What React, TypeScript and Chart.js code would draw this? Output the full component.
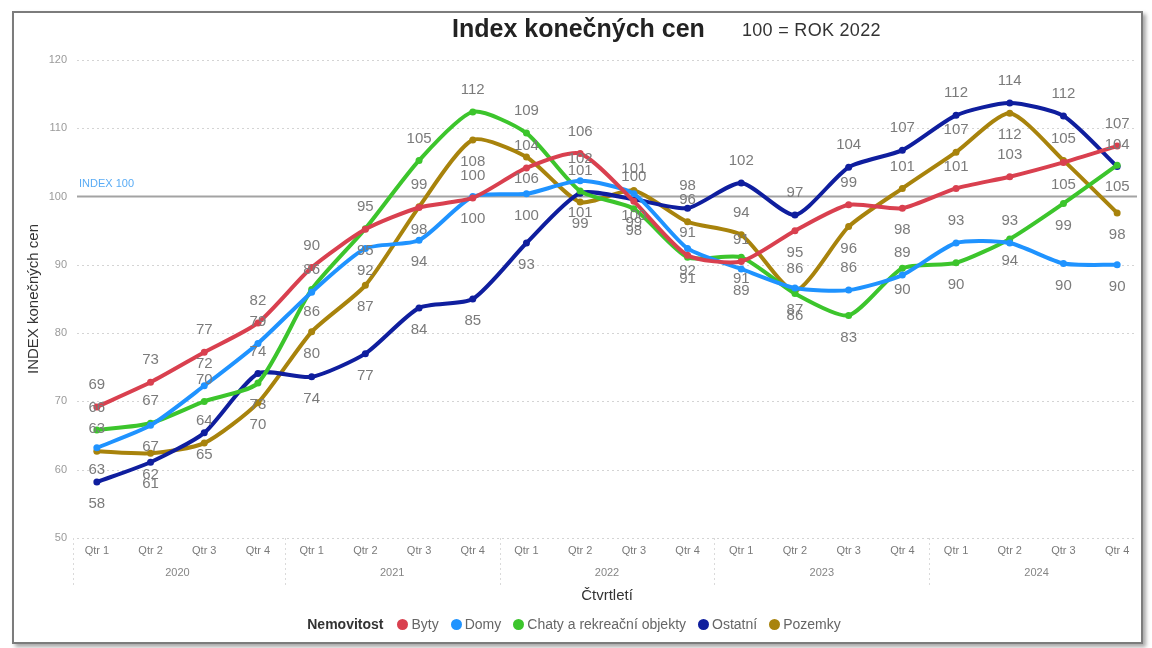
import React, { useEffect, useRef } from "react";
import { Chart, registerables } from "chart.js";

Chart.register(...registerables);

// ---------- data ----------
const years = ["2020", "2021", "2022", "2023", "2024"];
const quarters = ["Qtr 1", "Qtr 2", "Qtr 3", "Qtr 4"];
const categories = years.flatMap(() => quarters);

const seriesNames = ["Byty", "Domy", "Chaty a rekreační objekty", "Ostatní", "Pozemky"];
const byty = [69.2, 72.8, 77.2, 81.5, 89.6, 95.2, 98.4, 99.8, 104.2, 106.3, 99.3, 91.4, 90.5, 95.0, 98.8, 98.3, 101.2, 102.9, 105.0, 107.4];
const domy = [63.2, 66.5, 72.3, 78.5, 86.0, 92.4, 93.6, 100.0, 100.4, 102.3, 100.4, 92.4, 89.4, 86.6, 86.3, 88.5, 93.2, 93.2, 90.2, 90.0];
const chaty = [65.8, 66.8, 70.0, 72.7, 86.4, 95.3, 105.3, 112.4, 109.3, 100.8, 98.2, 91.1, 91.1, 85.8, 82.6, 89.5, 90.3, 93.8, 99.0, 104.6];
const ostatni = [58.2, 61.1, 65.4, 74.1, 73.6, 77.0, 83.7, 85.0, 93.2, 100.5, 99.6, 98.3, 102.0, 97.3, 104.3, 106.8, 111.9, 113.7, 111.8, 104.4];
const pozemky = [62.7, 62.4, 63.9, 69.8, 80.2, 87.0, 98.5, 108.3, 105.8, 99.2, 100.9, 96.3, 94.4, 86.2, 95.6, 101.2, 106.5, 112.2, 105.3, 97.6];
const seriesValues = [byty, domy, chaty, ostatni, pozemky];
const seriesColors = ["#D9404F", "#1F93FF", "#3CC52C", "#0F1E9E", "#A8830C"];

const yTicks = [50, 60, 70, 80, 90, 100, 110, 120];
const indexLine = 100;
const indexLabel = "INDEX 100";
const titleText = "Index konečných cen";
const subtitleText = "100 = ROK 2022";
const yTitle = "INDEX konečných cen";
const xTitle = "Čtvrtletí";
const legendTitle = "Nemovitost";

const FONT = '"Liberation Sans", Arial, sans-serif';

const extrasPlugin = {
  id: "extras",
  beforeDatasetsDraw(chart: any) {
    const { ctx, chartArea, scales } = chart;
    const y = scales.y;
    const x0 = chartArea.left + 7;
    const x1 = chartArea.right - 7;
    ctx.save();
    ctx.strokeStyle = "#d4d4d4";
    ctx.lineWidth = 1;
    ctx.setLineDash([2, 3]);
    for (const t of yTicks) {
      if (t === indexLine) continue;
      const py = Math.round(y.getPixelForValue(t)) + 0.5;
      ctx.beginPath();
      ctx.moveTo(x0, py);
      ctx.lineTo(x1, py);
      ctx.stroke();
    }
    ctx.setLineDash([]);
    const p = y.getPixelForValue(indexLine);
    ctx.strokeStyle = "#a3a3a3";
    ctx.lineWidth = 2;
    ctx.beginPath();
    ctx.moveTo(x0, p);
    ctx.lineTo(x1, p);
    ctx.stroke();
    ctx.fillStyle = "#5aacf5";
    ctx.font = "11px " + FONT;
    ctx.textBaseline = "middle";
    ctx.textAlign = "left";
    ctx.fillText(indexLabel, chartArea.left + 9, p - 13);
    ctx.restore();
  },
  afterDatasetsDraw(chart: any) {
    const { ctx } = chart;
    ctx.save();
    ctx.font = "15px " + FONT;
    ctx.fillStyle = "#7b7b7b";
    ctx.textAlign = "center";
    ctx.textBaseline = "middle";
    const placed: { l: number; r: number; t: number; b: number }[] = [];
    const n = categories.length;
    const h = 14;
    const off = 22;
    for (let i = 0; i < n; i++) {
      const items = chart.data.datasets.map((ds: any, d: number) => {
        const el = chart.getDatasetMeta(d).data[i];
        return { d, v: ds.data[i], x: el.x, y: el.y };
      });
      items.sort((a: any, b: any) => a.y - b.y);
      items.forEach((it: any, rank: number) => {
        const text = String(Math.round(it.v));
        const w = ctx.measureText(text).width;
        const preferAbove = rank === 0 ? true : rank === items.length - 1 ? false : rank < items.length / 2;
        const cands = [
          { cy: it.y - off, pref: preferAbove ? 0 : 1 },
          { cy: it.y + off, pref: preferAbove ? 1 : 0 },
        ];
        let best: any = null;
        for (const c of cands) {
          const box = { l: it.x - w / 2, r: it.x + w / 2, t: c.cy - h / 2, b: c.cy + h / 2 };
          let score = c.pref;
          for (const pb of placed) {
            const ox = Math.min(box.r, pb.r) - Math.max(box.l, pb.l);
            const oy = Math.min(box.b, pb.b) - Math.max(box.t, pb.t);
            if (ox > 0 && oy > 0) score += (ox * oy) / 10;
          }
          for (const o of items) {
            if (o === it) continue;
            if (o.y > box.t - 3 && o.y < box.b + 3) score += 6;
          }
          if (box.t < chart.chartArea.top - 10) score += 20;
          if (!best || score < best.score) best = { score, box, cy: c.cy };
        }
        placed.push(best.box);
        ctx.fillText(text, it.x, best.cy);
      });
    }
    ctx.restore();
  },
  afterDraw(chart: any) {
    const { ctx, chartArea, scales } = chart;
    const x = scales.x;
    ctx.save();
    ctx.font = "11px " + FONT;
    ctx.fillStyle = "#858585";
    ctx.textAlign = "center";
    ctx.textBaseline = "middle";
    years.forEach((yr, k) => {
      const a = x.getPixelForValue(k * 4);
      const b = x.getPixelForValue(k * 4 + 3);
      ctx.fillText(yr, (a + b) / 2, chartArea.bottom + 35);
    });
    ctx.strokeStyle = "#dadada";
    ctx.lineWidth = 1;
    ctx.setLineDash([2, 3]);
    const seps: number[] = [chartArea.left + 3];
    for (let k = 1; k < years.length; k++) {
      seps.push((x.getPixelForValue(k * 4 - 1) + x.getPixelForValue(k * 4)) / 2);
    }
    for (const sx of seps) {
      const px = Math.round(sx) + 0.5;
      ctx.beginPath();
      ctx.moveTo(px, chartArea.bottom);
      ctx.lineTo(px, chartArea.bottom + 50);
      ctx.stroke();
    }
    ctx.restore();
  },
};

export default function App() {
  const ref = useRef<HTMLCanvasElement | null>(null);

  useEffect(() => {
    if (!ref.current) return;
    const chart = new Chart(ref.current, {
      type: "line",
      data: {
        labels: categories,
        datasets: seriesNames.map((name, i) => ({
          label: name,
          data: seriesValues[i],
          borderColor: seriesColors[i],
          backgroundColor: seriesColors[i],
          borderWidth: 4,
          pointRadius: 3.5,
          pointHoverRadius: 3.5,
          pointBorderWidth: 0,
          tension: 0.22,
          borderJoinStyle: "round",
          borderCapStyle: "round",
          fill: false,
        })),
      },
      options: {
        responsive: false,
        animation: false,
        events: [],
        layout: { padding: { top: 60, left: 14, right: 8, bottom: 40 } },
        plugins: {
          legend: { display: false },
          title: { display: false },
          tooltip: { enabled: false },
        },
        scales: {
          x: {
            type: "category",
            offset: true,
            grid: { display: false, drawTicks: false },
            border: { display: false },
            ticks: {
              autoSkip: false,
              maxRotation: 0,
              minRotation: 0,
              padding: 6,
              color: "#7a7a7a",
              font: { family: FONT, size: 11 },
            },
            title: {
              display: true,
              text: xTitle,
              color: "#333333",
              font: { family: FONT, size: 15 },
              padding: { top: 0, bottom: 3 },
            },
            afterFit: (s: any) => {
              s.height = 70;
            },
          },
          y: {
            min: 50,
            max: 120,
            grid: { display: false, drawTicks: false },
            border: { display: false },
            ticks: {
              stepSize: 10,
              padding: 3,
              color: "#9a9a9a",
              font: { family: FONT, size: 11 },
            },
            title: {
              display: true,
              text: yTitle,
              color: "#333333",
              font: { family: FONT, size: 15 },
              padding: { top: 11, bottom: 0 },
            },
            afterFit: (s: any) => {
              s.width = 56;
            },
          },
        },
      },
      plugins: [extrasPlugin],
    } as any);
    return () => chart.destroy();
  }, []);

  return (
    <div
      style={{
        position: "absolute",
        left: 0,
        top: 0,
        width: 1152,
        height: 648,
        background: "#ffffff",
        fontFamily: FONT,
        overflow: "hidden",
      }}
    >
      <div
        style={{
          position: "absolute",
          left: 12,
          top: 11,
          width: 1131,
          height: 633,
          boxSizing: "border-box",
          border: "2px solid #7c7c7c",
          boxShadow: "3px 3px 4px rgba(0,0,0,0.35)",
          background: "#ffffff",
        }}
      />
      <canvas ref={ref} width={1152} height={648} style={{ position: "absolute", left: 0, top: 0 }} />
      <div
        style={{
          position: "absolute",
          left: 452,
          top: 16,
          fontSize: 25,
          lineHeight: "25px",
          fontWeight: "bold",
          color: "#222222",
          whiteSpace: "nowrap",
        }}
      >
        {titleText}
      </div>
      <div
        style={{
          position: "absolute",
          left: 742,
          top: 21,
          fontSize: 18,
          lineHeight: "18px",
          letterSpacing: 0.3,
          color: "#333333",
          whiteSpace: "nowrap",
        }}
      >
        {subtitleText}
      </div>
      <div
        style={{
          position: "absolute",
          left: 0,
          top: 615,
          width: 1148,
          height: 18,
          display: "flex",
          justifyContent: "center",
          alignItems: "center",
          fontSize: 14,
          lineHeight: "18px",
          whiteSpace: "nowrap",
        }}
      >
        <span style={{ fontWeight: "bold", color: "#333333", marginRight: 14 }}>{legendTitle}</span>
        {seriesNames.map((name, i) => (
          <span key={name} style={{ display: "flex", alignItems: "center", marginRight: i < seriesNames.length - 1 ? 12 : 0 }}>
            <span
              style={{
                display: "inline-block",
                width: 11,
                height: 11,
                borderRadius: 6,
                background: seriesColors[i],
                marginRight: 3,
              }}
            />
            <span style={{ color: "#666666" }}>{name}</span>
          </span>
        ))}
      </div>
    </div>
  );
}
